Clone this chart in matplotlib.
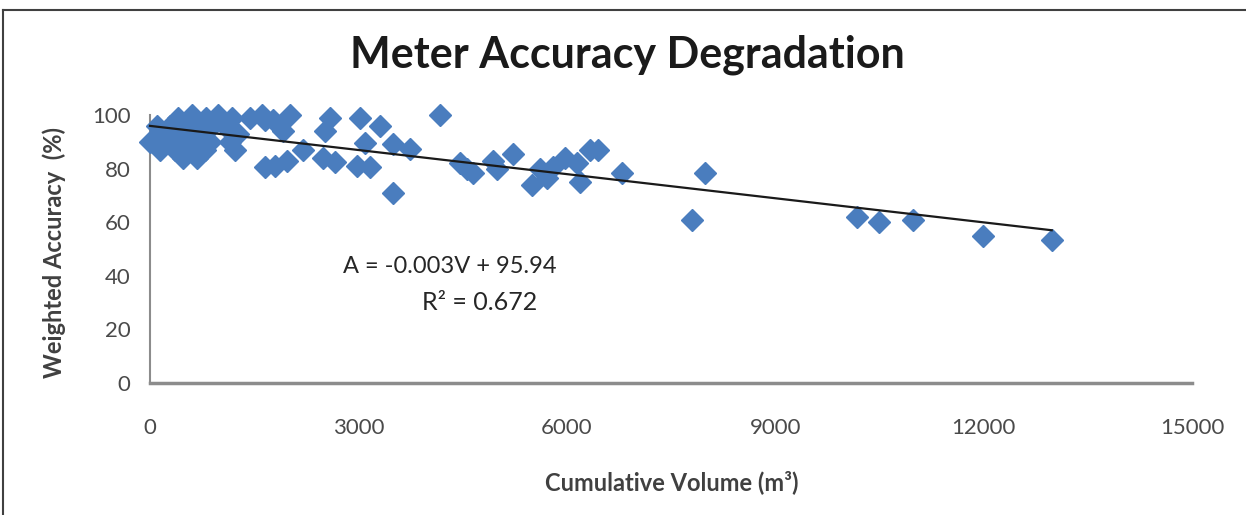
import matplotlib
matplotlib.use("Agg")
import matplotlib.pyplot as plt
from matplotlib.lines import Line2D
import numpy as np

# ---- data ----
volume = [
    # dense cluster near the origin
    400, 600, 800, 980, 1180, 1440, 1610, 1770, 2010,
    100, 290, 505, 690, 890, 1080, 1655, 1915,
    190, 390, 575, 765, 1265,
    0, 260, 460, 660, 860, 1150,
    145, 360, 575, 790, 1225,
    475, 675,
    # scattered points
    2520, 2590, 3020, 3310, 3095, 2200,
    1655, 1800, 1970, 2490, 2660, 2980, 3170, 3500,
    4175, 3500, 3740, 4460, 4560, 4650, 4940, 5000, 5225,
    5500, 5615, 5715, 5800, 5975, 6150, 6190, 6335, 6450, 6795,
    7990, 7800, 10180, 10500, 10980, 11990, 12980,
]
accuracy = [
    99, 100, 99, 100, 99, 99, 100, 98, 100,
    96, 96, 97, 96, 96, 96, 98, 94,
    93, 93, 93, 93, 93,
    90, 90, 90, 90, 90, 90,
    87, 87, 86.5, 87, 87,
    84, 84,
    94, 99, 99, 96, 89.5, 87,
    80.5, 81, 83, 84, 82.5, 81, 80.5, 71,
    100, 89, 87.5, 82, 80, 78.5, 83, 80, 85.5,
    74, 80, 76.5, 80.5, 84, 82, 75, 87, 87, 78.5,
    78.5, 61, 62, 60, 61, 55, 53.5,
]
slope = -0.003
intercept = 95.94
r_squared = 0.672
x_ticks = [0, 3000, 6000, 9000, 12000, 15000]
y_ticks = [0, 20, 40, 60, 80, 100]

title = "Meter Accuracy Degradation"
x_label = "Cumulative Volume (m³)"
y_label = "Weighted Accuracy  (%)"

W, H = 1246, 515
fig = plt.figure(figsize=(W / 100, H / 100), dpi=100)
plt.rcParams['font.family'] = ['Lato', 'DejaVu Sans']

ax = fig.add_axes([150 / W, 1 - 383 / H, (1192 - 150) / W, (383 - 115) / H])

blue = '#4A7DBE'
ax.plot(volume, accuracy, linestyle='none', marker='D', markersize=11,
        markerfacecolor=blue, markeredgecolor=blue, clip_on=False, zorder=3)

vx = np.array([min(volume), max(volume)])
ax.plot(vx, slope * vx + intercept, color='#1a1a1a', linewidth=1.6, zorder=4,
        clip_on=False)

ax.set_xlim(0, 15000)
ax.set_ylim(0, 100)
ax.set_xticks(x_ticks)
ax.set_yticks(y_ticks)
ax.set_xticklabels([str(t) for t in x_ticks])
ax.set_yticklabels([str(t) for t in y_ticks])

for s in ['top', 'right']:
    ax.spines[s].set_visible(False)
ax.spines['left'].set_color('#8c8c8c')
ax.spines['left'].set_linewidth(1.5)
ax.spines['bottom'].set_color('#8c8c8c')
ax.spines['bottom'].set_linewidth(2.5)
ax.spines['bottom'].set_bounds(0, 15000)

ax.tick_params(axis='both', length=0, labelsize=16, labelcolor='#4a4a4a')
ax.tick_params(axis='x', pad=25)
ax.tick_params(axis='y', pad=14)

fig.text(627 / W, 1 - 55 / H, title, ha='center', va='center',
         fontsize=31, fontweight='bold', color='#1a1a1a')
fig.text(672 / W, 1 - 482 / H, x_label, ha='center', va='center',
         fontsize=17, fontweight='bold', color='#404040')
fig.text(54 / W, 1 - 252 / H, y_label, ha='center', va='center',
         rotation=90, fontsize=17, fontweight='bold', color='#404040')

ax.text(4318, 43.3, f"A = {slope:g}V + {intercept:g}", ha='center', va='center',
        fontsize=17, color='#262626')
ax.text(4750, 30.2, f"R² = {r_squared:g}", ha='center', va='center',
        fontsize=18, color='#262626')

# outer frame (top and left edges visible in the reference)
fig.add_artist(Line2D([3 / W, 1.0], [1 - 10 / H, 1 - 10 / H], transform=fig.transFigure,
                      color='#404040', linewidth=1.5))
fig.add_artist(Line2D([3 / W, 3 / W], [0.0, 1 - 10 / H], transform=fig.transFigure,
                      color='#404040', linewidth=1.5))

fig.savefig("out.png", dpi=100, facecolor='white')
